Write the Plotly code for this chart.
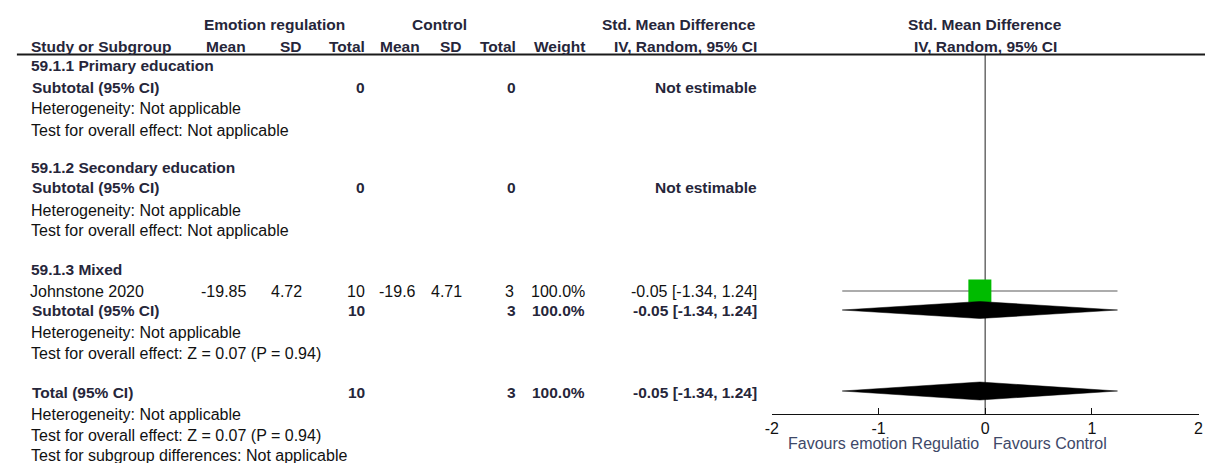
import plotly.graph_objects as go

W, H = 1210, 463

# ---------------- data ----------------
subgroups = ["59.1.1 Primary education", "59.1.2 Secondary education", "59.1.3 Mixed"]
subgroup_n_er = [0, 0, 10]
subgroup_n_c = [0, 0, 3]

studies = ["Johnstone 2020"]
er_mean = [-19.85]
er_sd = [4.72]
er_n = [10]
c_mean = [-19.6]
c_sd = [4.71]
c_n = [3]
weight = [100.0]
smd = [-0.05]
ci_lo = [-1.34]
ci_hi = [1.24]

sub_smd, sub_lo, sub_hi, sub_w = -0.05, -1.34, 1.24, 100.0
sub_z, sub_p = 0.07, 0.94
tot_smd, tot_lo, tot_hi, tot_w = -0.05, -1.34, 1.24, 100.0
tot_n_er, tot_n_c = 10, 3
tot_z, tot_p = 0.07, 0.94

axis_ticks = [-2, -1, 0, 1, 2]
axis_ticktext = ["-2", "-1", "0", "1", "2"]
favours_left = "Favours emotion Regulatio"
favours_right = "Favours Control"
null_effect = 0

# ---------------- layout constants (pixels) ----------------
FONT = "Arial, Liberation Sans, sans-serif"
NORMAL = 16
BOLD = 15.5
TXT = "#111111"
BTXT = "#26263a"
AX_Y = 414
X_LEFT, X_RIGHT = 772.5, 1203.5

COL = dict(er_mean=241, er_sd=298, er_n=362, c_mean=415, c_sd=460, c_n=513,
           weight=584, ci=758)

fig = go.Figure()
ann = []


def fx(x):
    return x / W


def fy(y):
    return 1 - y / H


def text(x, y, s, anchor="left", bold=False, color=None, size=None):
    ann.append(dict(
        x=fx(x), y=fy(y), xref="paper", yref="paper",
        text=f"<b>{s}</b>" if bold else s,
        xanchor=anchor, yanchor="middle", showarrow=False,
        borderpad=0, borderwidth=0,
        font=dict(family=FONT, size=size or (BOLD if bold else NORMAL),
                  color=color or (BTXT if bold else TXT)),
    ))


def fmt_ci(e, lo, hi):
    return f"{e:.2f} [{lo:.2f}, {hi:.2f}]"


# ---------------- headers ----------------
text(270, 25, "Emotion regulation", "center", bold=True)
text(437, 25, "Control", "center", bold=True)
text(757, 25, "Std. Mean Difference", "right", bold=True)
text(988, 25, "Std. Mean Difference", "center", bold=True)

text(24, 46, "Study or Subgroup", bold=True)
text(COL["er_mean"], 46, "Mean", "right", bold=True)
text(COL["er_sd"], 46, "SD", "right", bold=True)
text(COL["er_n"], 46, "Total", "right", bold=True)
text(COL["c_mean"] + 2, 46, "Mean", "right", bold=True)
text(COL["c_sd"], 46, "SD", "right", bold=True)
text(COL["c_n"] + 1, 46, "Total", "right", bold=True)
text(COL["weight"], 46, "Weight", "right", bold=True)
text(COL["ci"], 46, "IV, Random, 95% CI", "right", bold=True)
text(988, 46, "IV, Random, 95% CI", "center", bold=True)

# ---------------- subgroups ----------------
sg_title_y = [66, 167, 269]
sub_y = [87, 188, 310]
het_y = [109, 210, 332]
test_y = [130, 231, 353.5]

for i, name in enumerate(subgroups):
    text(24, sg_title_y[i], name, bold=True)
    text(25, sub_y[i], "Subtotal (95% CI)", bold=True)
    text(COL["er_n"], sub_y[i], str(subgroup_n_er[i]), "right", bold=True)
    text(COL["c_n"] + 1, sub_y[i], str(subgroup_n_c[i]), "right", bold=True)
    text(24, het_y[i], "Heterogeneity: Not applicable")
    if subgroup_n_er[i] == 0:
        text(COL["ci"], sub_y[i], "Not estimable", "right", bold=True)
        text(24, test_y[i], "Test for overall effect: Not applicable")
    else:
        text(COL["weight"], sub_y[i], f"{sub_w:.1f}%", "right", bold=True)
        text(COL["ci"], sub_y[i], fmt_ci(sub_smd, sub_lo, sub_hi), "right", bold=True)
        text(24, test_y[i], f"Test for overall effect: Z = {sub_z:.2f} (P = {sub_p:.2f})")

study_y = [291]
for i, s in enumerate(studies):
    y = study_y[i]
    text(23, y, s)
    text(COL["er_mean"], y, f"{er_mean[i]:.2f}", "right")
    text(COL["er_sd"], y, f"{er_sd[i]:.2f}", "right")
    text(COL["er_n"], y, str(er_n[i]), "right")
    text(COL["c_mean"] - 2, y, f"{c_mean[i]:g}", "right")
    text(COL["c_sd"], y, f"{c_sd[i]:.2f}", "right")
    text(COL["c_n"] - 1, y, str(c_n[i]), "right")
    text(COL["weight"], y, f"{weight[i]:.1f}%", "right")
    text(COL["ci"], y, fmt_ci(smd[i], ci_lo[i], ci_hi[i]), "right")

TOT_Y = 392
text(25, TOT_Y, "Total (95% CI)", bold=True)
text(COL["er_n"], TOT_Y, str(tot_n_er), "right", bold=True)
text(COL["c_n"] + 1, TOT_Y, str(tot_n_c), "right", bold=True)
text(COL["weight"], TOT_Y, f"{tot_w:.1f}%", "right", bold=True)
text(COL["ci"], TOT_Y, fmt_ci(tot_smd, tot_lo, tot_hi), "right", bold=True)
text(24, 414, "Heterogeneity: Not applicable")
text(24, 435, f"Test for overall effect: Z = {tot_z:.2f} (P = {tot_p:.2f})")
text(24, 455.5, "Test for subgroup differences: Not applicable")

text(982, 443, favours_left, "right", color="#3e4868")
text(996, 443, favours_right, "left", color="#3e4868")

# ---------------- forest marks (y in pixel rows) ----------------
fig.add_trace(go.Scatter(x=[null_effect, null_effect], y=[55, AX_Y], mode="lines",
                         line=dict(color="#6a6a6a", width=1.5), hoverinfo="skip"))

for i in range(len(studies)):
    fig.add_trace(go.Scatter(x=[ci_lo[i], ci_hi[i]], y=[study_y[i], study_y[i]],
                             mode="lines", line=dict(color="#5a5a5a", width=1.2),
                             hoverinfo="skip"))
    fig.add_trace(go.Scatter(x=[smd[i]], y=[study_y[i]], mode="markers",
                             marker=dict(symbol="square", size=23 * weight[i] / 100,
                                         color="#00bb00", line=dict(width=0)),
                             hoverinfo="skip"))


def diamond(e, lo, hi, y, h):
    fig.add_trace(go.Scatter(x=[lo, e, hi, e, lo], y=[y, y - h, y, y + h, y],
                             mode="lines", fill="toself", fillcolor="black",
                             line=dict(color="black", width=0.5), hoverinfo="skip"))


diamond(sub_smd, sub_lo, sub_hi, 310, 8.5)
diamond(tot_smd, tot_lo, tot_hi, 391, 9)

shapes = [dict(type="line", xref="paper", yref="paper", x0=fx(10), x1=1.0,
               y0=fy(54.5), y1=fy(54.5), line=dict(color="#1a1a1a", width=2))]

fig.update_layout(
    width=W, height=H, autosize=False,
    margin=dict(l=0, r=0, t=0, b=0),
    paper_bgcolor="white", plot_bgcolor="white",
    showlegend=False,
    annotations=ann, shapes=shapes,
    xaxis=dict(domain=[fx(X_LEFT), fx(X_RIGHT)], range=[-2, 2],
               showgrid=False, zeroline=False, showline=True, linecolor="#111",
               linewidth=1.2, ticks="inside", ticklen=6, tickcolor="#111",
               tickvals=axis_ticks, ticktext=axis_ticktext,
               tickfont=dict(family=FONT, size=NORMAL, color=TXT), fixedrange=True),
    yaxis=dict(domain=[fy(AX_Y), 1], range=[AX_Y, 0], visible=False,
               showgrid=False, zeroline=False, fixedrange=True),
)

fig.write_html(
    "out.html",
    config={"responsive": False, "displayModeBar": False},
    post_script="document.body.style.margin='0px';document.body.style.overflow='hidden';",
)
